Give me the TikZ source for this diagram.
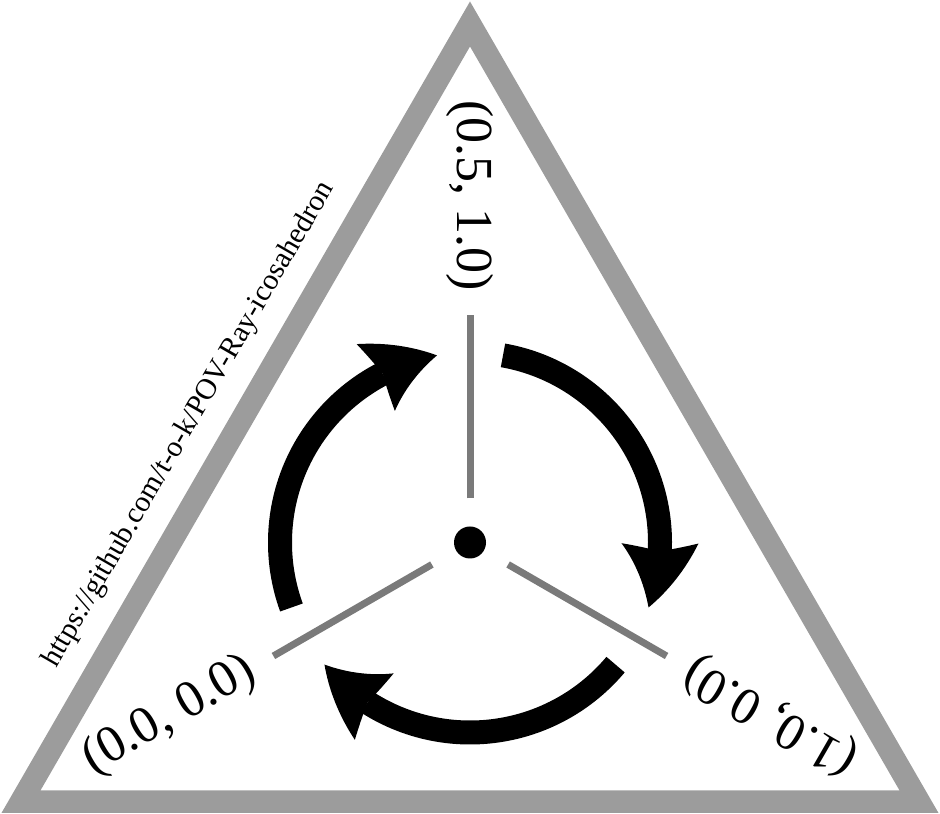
\documentclass[tikz,border=0pt]{standalone}
\usepackage{fontspec}
\setmainfont{Liberation Serif}
\usetikzlibrary{arrows.meta,calc,bending}
\definecolor{trigray}{RGB}{156,156,156}
\definecolor{spokegray}{RGB}{122,122,122}
\begin{document}
\begin{tikzpicture}[x=1pt,y=1pt,
  frame/.style={draw=trigray, line width=22.5pt, line join=miter},
  spoke/.style={draw=spokegray, line width=7pt},
  turn/.style={draw=black, line width=24pt,
    -{Stealth[length=66pt,width=77pt,inset=8pt,line width=0pt,bend]}},
  coordlabel/.style={font=\fontsize{52}{52}\selectfont, inner sep=0pt},
  url/.style={font=\fontsize{29.5}{30}\selectfont, inner sep=0pt}]
\useasboundingbox (0,0) rectangle (940,814);
\coordinate (C) at (470,271.5);
\coordinate (A) at ($(C)+(90:518.5)$);
\coordinate (BL) at ($(C)+(210:518.5)$);
\coordinate (BR) at ($(C)+(330:518.5)$);
\draw[frame] (A) -- (BL) -- (BR) -- cycle;
% spokes
\foreach \a in {90,210,330}{
  \coordinate (si\a) at ($(C)+(\a:44)$);
  \coordinate (so\a) at ($(C)+(\a:227)$);
  \draw[spoke] (si\a) -- (so\a);
}
% hub
\node[circle, fill=black, minimum size=32pt, inner sep=0pt] (hub) at (C) {};
% labels
\node[coordlabel, rotate=-90] (L1) at ($(C)+(90:347)$) {(0.5, 1.0)};
\node[coordlabel, rotate=30] (L0) at ($(C)+(210:347)$) {(0.0, 0.0)};
\node[coordlabel, rotate=150] (L2) at ($(C)+(330:347)$) {(1.0, 0.0)};
% rotation arrows
\coordinate (t1) at ($(C)+(200:190)$);
\coordinate (t2) at ($(C)+(80:190)$);
\coordinate (t3) at ($(C)+(-40:190)$);
\draw[turn] (t1) arc[start angle=200, end angle=100, radius=190];
\draw[turn] (t2) arc[start angle=80, end angle=-20, radius=190];
\draw[turn] (t3) arc[start angle=-40, end angle=-140, radius=190];
% url
\node[url, rotate=60, anchor=base] (url) at (195.3,385.9) {https://github.com/t-o-k/POV-Ray-icosahedron};
\end{tikzpicture}
\end{document}
